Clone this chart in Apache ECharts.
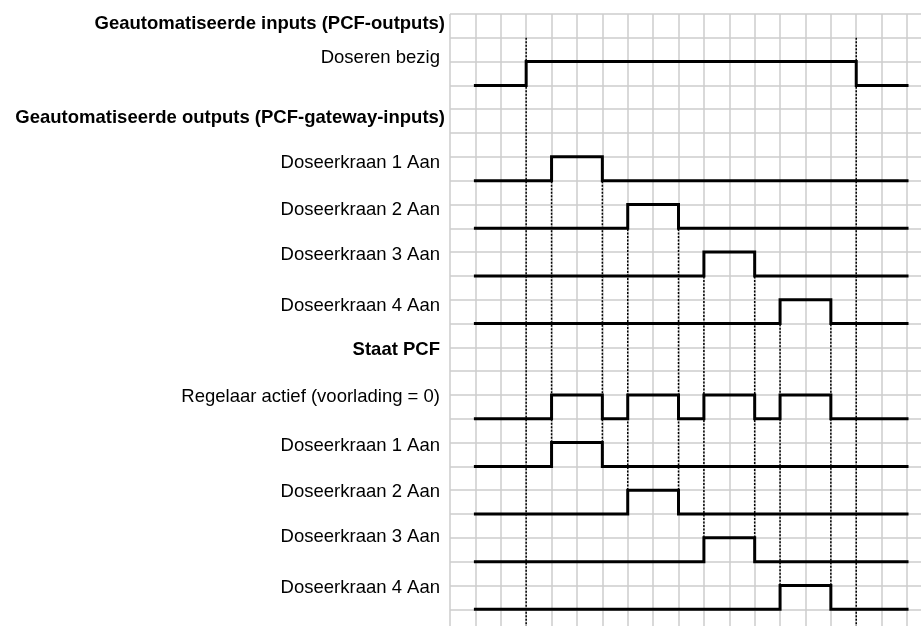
<!DOCTYPE html>
<html>
<head>
<meta charset="utf-8">
<script src="https://cdn.jsdelivr.net/npm/echarts@6/dist/echarts.min.js"></script>
<style>html,body{margin:0;padding:0;background:#fff}#c{width:921px;height:626px}</style>
</head>
<body>
<div id="c"></div>
<script>
// ---- data ----
const timeStart = 1; // first time step of every trace
// state per time step (1 = Aan / actief), steps 1..17
const dosererenBezig      = [0,0,1,1,1,1,1,1,1,1,1,1,1,1,1,0,0];
const outDoseerkraan1     = [0,0,0,1,1,0,0,0,0,0,0,0,0,0,0,0,0];
const outDoseerkraan2     = [0,0,0,0,0,0,1,1,0,0,0,0,0,0,0,0,0];
const outDoseerkraan3     = [0,0,0,0,0,0,0,0,0,1,1,0,0,0,0,0,0];
const outDoseerkraan4     = [0,0,0,0,0,0,0,0,0,0,0,0,1,1,0,0,0];
const regelaarActief      = [0,0,0,1,1,0,1,1,0,1,1,0,1,1,0,0,0];
const pcfDoseerkraan1     = [0,0,0,1,1,0,0,0,0,0,0,0,0,0,0,0,0];
const pcfDoseerkraan2     = [0,0,0,0,0,0,1,1,0,0,0,0,0,0,0,0,0];
const pcfDoseerkraan3     = [0,0,0,0,0,0,0,0,0,1,1,0,0,0,0,0,0];
const pcfDoseerkraan4     = [0,0,0,0,0,0,0,0,0,0,0,0,1,1,0,0,0];

const traceNames = [
  'Doseren bezig',
  'Doseerkraan 1 Aan','Doseerkraan 2 Aan','Doseerkraan 3 Aan','Doseerkraan 4 Aan',
  'Regelaar actief (voorlading = 0)',
  'Doseerkraan 1 Aan','Doseerkraan 2 Aan','Doseerkraan 3 Aan','Doseerkraan 4 Aan'
];
const traces = [dosererenBezig,outDoseerkraan1,outDoseerkraan2,outDoseerkraan3,outDoseerkraan4,
                regelaarActief,pcfDoseerkraan1,pcfDoseerkraan2,pcfDoseerkraan3,pcfDoseerkraan4];
const headerNames = ['Geautomatiseerde inputs (PCF-outputs)','Geautomatiseerde outputs (PCF-gateway-inputs)','Staat PCF'];

// dotted guide lines: time step, first row, last row
const guideTime = [3, 16, 4, 6, 7, 9, 10, 12, 13, 15];
const guideFrom = [1, 1, 6, 6, 8, 8, 10, 10, 12, 12];
const guideTo   = [26, 26, 19, 19, 21, 21, 23, 23, 25, 25];

// ---- layout ----
const traceLowRow = [3,7,9,11,13,17,19,21,23,25];
const traceLabelY = [57.5,163,210.3,254.5,306,397,445.5,492,537,588.3];
const headerLabelY = [23.5,117.5,350];
const headerLabelX = [445,445,440];
const FONT = '"Liberation Sans", Arial, Helvetica, sans-serif';
const FS = 18.5;

const series = [];
traces.forEach((st, i) => {
  const pts = st.map((v, j) => [timeStart + j, traceLowRow[i] - v]);
  pts.push([timeStart + st.length, traceLowRow[i] - st[st.length - 1]]);
  series.push({
    type: 'line', step: 'end', data: pts, symbol: 'none', silent: true, z: 5,
    lineStyle: { color: '#000', width: 3, join: 'miter', cap: 'square' }
  });
});
guideTime.forEach((t, i) => {
  series.push({
    type: 'line', data: [[t, guideFrom[i]], [t, guideTo[i]]], symbol: 'none', silent: true, z: 3, clip: true,
    lineStyle: { color: '#000', width: 1.5, type: [2, 1.5] }
  });
});

const graphics = [];
traceNames.forEach((n, i) => graphics.push({
  type: 'text', x: 440, y: traceLabelY[i], silent: true,
  style: { text: n, fill: '#000', fontFamily: FONT, fontSize: FS, fontWeight: 'normal', align: 'right', verticalAlign: 'middle' }
}));
headerNames.forEach((n, i) => graphics.push({
  type: 'text', x: headerLabelX[i], y: headerLabelY[i], silent: true,
  style: { text: n, fill: '#000', fontFamily: FONT, fontSize: FS, fontWeight: 'bold', align: 'right', verticalAlign: 'middle' }
}));

const colW = 25.39, rowH = 23.81;
const gridW = 471, gridH = 612;
const chart = echarts.init(document.getElementById('c'), null, { renderer: 'canvas' });
chart.setOption({
  animation: false,
  backgroundColor: '#fff',
  grid: { left: 450, top: 14, width: gridW, height: gridH, containLabel: false },
  xAxis: {
    type: 'value', min: 0, max: gridW / colW, interval: 1,
    axisLine: { show: false }, axisTick: { show: false }, axisLabel: { show: false },
    splitLine: { show: true, showMaxLine: false, lineStyle: { color: '#cccccc', width: 1.5 } }
  },
  yAxis: {
    type: 'value', min: 0, max: gridH / rowH, interval: 1, inverse: true,
    axisLine: { show: false }, axisTick: { show: false }, axisLabel: { show: false },
    splitLine: { show: true, showMaxLine: false, lineStyle: { color: '#cccccc', width: 1.5 } }
  },
  series: series,
  graphic: graphics
});
</script>
</body>
</html>
